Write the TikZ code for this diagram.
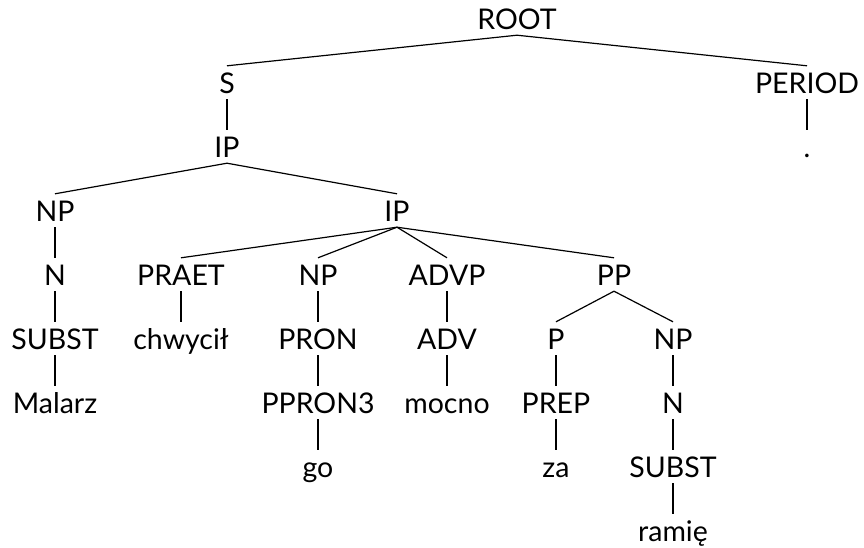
\documentclass[tikz,border=0pt]{standalone}
\usepackage{fontspec}
\setmainfont{Lato}
\begin{document}
\begin{tikzpicture}[x=1pt,y=-1pt,
  lbl/.style={anchor=base, inner sep=0pt, text height=27pt, text depth=6pt, font=\fontsize{28.5}{32}\selectfont},
  edge/.style={draw=black, line width=1.2pt}]
\useasboundingbox (0,0) rectangle (864,547);
\node[lbl] (root) at (517,29) {ROOT};
\node[lbl] (s) at (227,93) {S};
\node[lbl] (period) at (807,93) {PERIOD};
\node[lbl] (ip1) at (227,157) {IP};
\node[lbl] (dot) at (807,157) {.};
\node[lbl] (np1) at (55,221) {NP};
\node[lbl] (ip2) at (397,221) {IP};
\node[lbl] (n1) at (55,285) {N};
\node[lbl] (praet) at (181,285) {PRAET};
\node[lbl] (np2) at (318,285) {NP};
\node[lbl] (advp) at (447,285) {ADVP};
\node[lbl] (pp) at (614,285) {PP};
\node[lbl] (subst1) at (55,349) {SUBST};
\node[lbl] (chwycil) at (181,349) {chwycił};
\node[lbl] (pron) at (318,349) {PRON};
\node[lbl] (adv) at (447,349) {ADV};
\node[lbl] (p) at (556,349) {P};
\node[lbl] (np3) at (673,349) {NP};
\node[lbl] (malarz) at (55,413) {Malarz};
\node[lbl] (ppron) at (318,413) {PPRON3};
\node[lbl] (mocno) at (447,413) {mocno};
\node[lbl] (prep) at (556,413) {PREP};
\node[lbl] (n2) at (673,413) {N};
\node[lbl] (go) at (318,477) {go};
\node[lbl] (za) at (556,477) {za};
\node[lbl] (subst2) at (673,477) {SUBST};
\node[lbl] (ramie) at (673,541) {ramię};
\foreach \a/\b in {root/s, root/period, s/ip1, period/dot, ip1/np1, ip1/ip2,
  np1/n1, n1/subst1, subst1/malarz, ip2/praet, ip2/np2, ip2/advp, ip2/pp,
  praet/chwycil, np2/pron, pron/ppron, ppron/go, advp/adv, adv/mocno,
  pp/p, pp/np3, p/prep, prep/za, np3/n2, n2/subst2, subst2/ramie}
  \draw[edge] (\a.south) -- (\b.north);
\end{tikzpicture}
\end{document}
